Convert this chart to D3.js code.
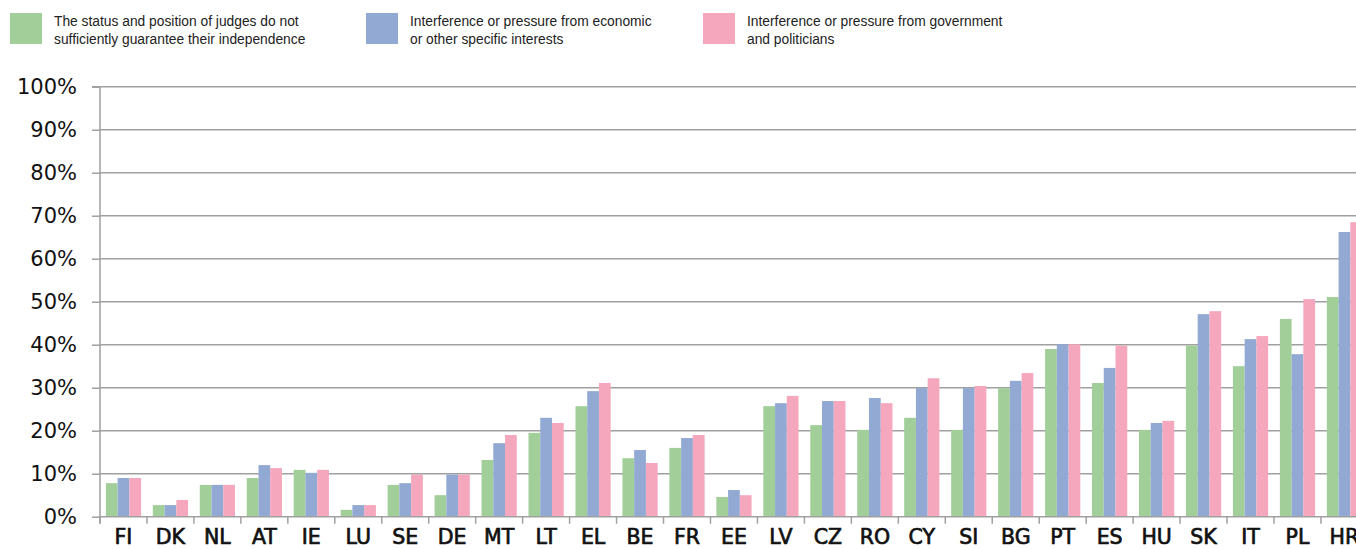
<!DOCTYPE html>
<html>
<head>
<meta charset="utf-8">
<script src="https://cdn.jsdelivr.net/npm/d3@7"></script>
<style>
  body { margin: 0; background: #fff; }
  svg { display: block; }
  .legend text { font-family: "Liberation Sans Narrow", "Liberation Sans", sans-serif; font-size: 13.8px; fill: #222; }
  .y-axis text { font-family: "DejaVu Sans", sans-serif; font-size: 21px; fill: #111; }
  .x-axis text { font-family: "DejaVu Sans", sans-serif; font-size: 20.5px; fill: #111; stroke: #111; stroke-width: 0.7px; }
</style>
</head>
<body>
<div id="chart"></div>
<script>
let svgWidth = 1356;
let svgHeight = 549;

// Data

let countries = ["FI", "DK", "NL", "AT", "IE", "LU", "SE", "DE", "MT", "LT", "EL", "BE", "FR", "EE",
  "LV", "CZ", "RO", "CY", "SI", "BG", "PT", "ES", "HU", "SK", "IT", "PL", "HR"];

let statusJudges = [7.8, 2.7, 7.4, 9.0, 10.9, 1.6, 7.4, 5.0, 13.2, 19.5, 25.7, 13.6, 16.0, 4.6,
  25.7, 21.3, 20.2, 23.0, 20.2, 29.9, 39.0, 31.1, 20.2, 39.8, 35.0, 46.0, 51.1];
let economicInterests = [9.0, 2.7, 7.4, 12.0, 10.2, 2.7, 7.8, 9.8, 17.1, 23.0, 29.2, 15.5, 18.3, 6.2,
  26.4, 26.9, 27.6, 29.9, 29.9, 31.6, 40.1, 34.6, 21.8, 47.1, 41.3, 37.8, 66.2];
let govPoliticians = [9.0, 3.9, 7.4, 11.3, 10.9, 2.7, 9.8, 9.8, 19.0, 21.8, 31.1, 12.5, 19.0, 5.0,
  28.1, 26.9, 26.4, 32.2, 30.4, 33.4, 40.1, 39.8, 22.3, 47.8, 42.0, 50.6, 68.5];

let seriesNames = [
  ["The status and position of judges do not", "sufficiently guarantee their independence"],
  ["Interference or pressure from economic", "or other specific interests"],
  ["Interference or pressure from government", "and politicians"]
];
let seriesColors = ["#a2ce9a", "#91a9d3", "#f4a7bd"];
let yTicks = [0, 10, 20, 30, 40, 50, 60, 70, 80, 90, 100];

let seriesValues = [statusJudges, economicInterests, govPoliticians];
let data = countries.map((c, i) => ({ country: c, values: seriesValues.map(s => s[i]) }));

let svg = d3.select("#chart").append("svg").attr("width", svgWidth).attr("height", svgHeight);

// Scales

let x0 = d3.scaleBand()
  .domain(countries)
  .range([100, 100 + 27 * 46.96])
  .padding(0);

let x1 = d3.scaleBand()
  .domain([0, 1, 2])
  .range([0, x0.bandwidth()])
  .paddingInner(0)
  .paddingOuter(0.5);

let y = d3.scaleLinear()
  .domain([0, 100])
  .range([516.7, 86.7]);

// Gridlines

svg.append("g")
  .selectAll("line")
  .data(yTicks.slice(1))
  .enter()
  .append("line")
  .attr("x1", 100)
  .attr("x2", svgWidth)
  .attr("y1", d => y(d))
  .attr("y2", d => y(d))
  .attr("stroke", "#a0a0a0")
  .attr("stroke-width", 1.5);

// Bars

let groups = svg.append("g")
  .selectAll("g")
  .data(data)
  .enter()
  .append("g")
  .attr("transform", d => `translate(${x0(d.country)}, 0)`);

groups.selectAll("rect")
  .data(d => d.values)
  .enter()
  .append("rect")
  .attr("x", (d, i) => x1(i))
  .attr("width", x1.bandwidth())
  .attr("y", d => y(d))
  .attr("height", d => y(0) - y(d))
  .attr("fill", (d, i) => seriesColors[i]);

// Axes

let yAxis = svg.append("g")
  .classed("y-axis", true)
  .attr("transform", "translate(100, 0)")
  .call(d3.axisLeft(y).tickValues(yTicks).tickSize(8).tickPadding(15).tickFormat(d => d + "%"));

let xAxis = svg.append("g")
  .classed("x-axis", true)
  .attr("transform", `translate(0, ${y(0)})`)
  .call(d3.axisBottom(x0).tickSize(0).tickPadding(12.5));

xAxis.selectAll("text").attr("dy", "0.71em");

// category boundary ticks
svg.append("g")
  .selectAll("line")
  .data(countries)
  .enter()
  .append("line")
  .attr("x1", d => x0(d))
  .attr("x2", d => x0(d))
  .attr("y1", y(0))
  .attr("y2", y(0) + 7)
  .attr("stroke", "#a0a0a0")
  .attr("stroke-width", 1.5);

svg.selectAll(".domain").attr("stroke", "#a0a0a0").attr("stroke-width", 1.5);
yAxis.select(".domain").attr("d", `M-8,${y(100)}H0V${y(0) + 7}`);
yAxis.selectAll(".tick line").attr("stroke", "#a0a0a0").attr("stroke-width", 1.5);
xAxis.select(".domain").attr("d", `M100,0H${svgWidth}`);

// Legend

let legendX = [10, 366, 703];
let legend = svg.append("g").classed("legend", true);

seriesNames.forEach((lines, i) => {
  let g = legend.append("g").attr("transform", `translate(${legendX[i]}, 13)`);
  g.append("rect")
    .attr("width", 32)
    .attr("height", 31)
    .attr("fill", seriesColors[i]);
  lines.forEach((t, j) => {
    g.append("text")
      .attr("x", 44)
      .attr("y", 12.5 + j * 18)
      .text(t);
  });
});
</script>
</body>
</html>
